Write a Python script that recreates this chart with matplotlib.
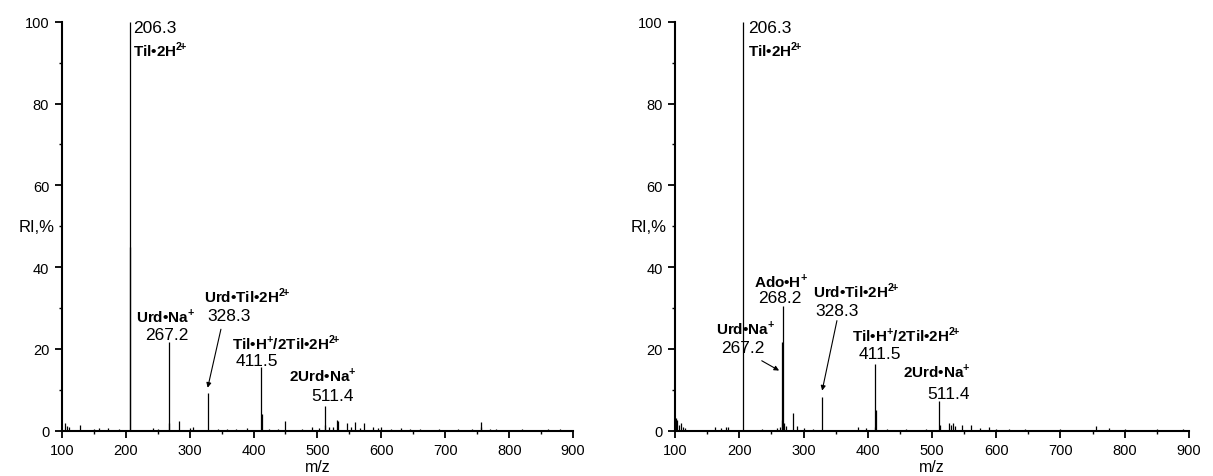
import matplotlib
matplotlib.use("Agg")
import matplotlib.pyplot as plt
from matplotlib.ticker import MultipleLocator

plt.rcParams['font.family'] = ['Liberation Sans', 'DejaVu Sans']
plt.rcParams['mathtext.fontset'] = 'custom'
plt.rcParams['mathtext.rm'] = 'Liberation Sans'
plt.rcParams['mathtext.bf'] = 'Liberation Sans:bold'

# left spectrum: main peaks + small peaks (m/z, RI %)
left_mz = [206.3, 206.8, 267.2, 268.2, 284.0, 328.3, 411.5, 412.5, 450.0,
           511.4, 512.4, 530.5, 532.5, 546.5, 559.5, 572.5, 587.0, 755.5, 756.5,
           105, 108, 112, 128, 150, 158, 173, 190, 243, 251, 300, 305, 344, 358,
           373, 390, 425, 439, 476, 491, 503, 518, 525, 553, 566, 595, 600, 615,
           630, 645, 660, 690, 720, 741, 770, 780, 820, 860, 880]
left_ri = [100, 45, 21.7, 2.0, 2.4, 9.2, 15.5, 4.0, 2.4,
           6.1, 1.5, 2.5, 2.3, 2.0, 2.2, 1.9, 1.0, 2.2, 1.0,
           1.8, 1.2, 0.8, 1.5, 0.5, 0.7, 0.6, 0.4, 0.6, 0.5, 0.6, 0.8, 0.5, 0.5,
           0.4, 0.6, 0.5, 0.5, 0.5, 0.8, 0.7, 0.8, 0.9, 0.8, 0.7, 0.6, 0.8, 0.5,
           0.7, 0.5, 0.4, 0.4, 0.3, 0.4, 0.5, 0.3, 0.3, 0.3, 0.3]

# right spectrum
right_mz = [206.3, 266.7, 267.2, 268.2, 269.2, 284.0, 290.0, 328.3, 410.5,
            411.5, 412.5, 511.4, 512.4, 101, 103, 106, 109, 112, 115, 162, 172,
            180, 183, 236, 258, 263, 272, 300, 315, 385, 398, 430, 460, 490,
            527, 530, 533, 536, 547, 560, 575, 588, 600, 620, 645, 700, 755,
            775, 800, 850, 890]
right_ri = [100, 2.5, 21.6, 30.6, 2.0, 4.3, 1.2, 8.2, 1.0,
            16.3, 5.0, 7.2, 1.5, 3.2, 2.5, 1.5, 1.8, 1.0, 0.6, 0.8, 0.7,
            0.8, 0.9, 0.5, 0.6, 1.0, 1.2, 0.7, 0.5, 1.0, 0.6, 0.5, 0.5, 0.5,
            1.8, 1.5, 1.8, 1.2, 1.3, 1.4, 0.6, 0.8, 0.5, 0.4, 0.4, 0.3, 1.2,
            0.6, 0.3, 0.3, 0.3]

SUP2 = r'$^{\mathbf{2}\!\mathbf{+}}$'
SUP1 = r'$^{\mathbf{+}}$'

# peak labels: (bold name, value, name x, name y, value x, value y, kind)
left_labels = [
    ('Til•2H' + SUP2, '206.3', 212, 93.3, 212, 98.5, 'left'),
    ('Urd•Na' + SUP1, '267.2', 262, 28.2, 264, 23.6, 'center'),
    ('Urd•Til•2H' + SUP2, '328.3', 323, 33.0, 362, 28.2, 'mixed'),
    ('Til•H' + SUP1 + '/2Til•2H' + SUP2, '411.5', 367, 21.7, 405, 17.1, 'mixed'),
    ('2Urd•Na' + SUP1, '511.4', 509, 13.9, 523, 8.6, 'center'),
]
right_labels = [
    ('Til•2H' + SUP2, '206.3', 213, 93.3, 213, 98.5, 'left'),
    ('Ado•H' + SUP1, '268.2', 265, 36.7, 263, 32.6, 'center'),
    ('Urd•Na' + SUP1, '267.2', 210, 25.3, 206, 20.4, 'center'),
    ('Urd•Til•2H' + SUP2, '328.3', 315, 34.2, 352, 29.3, 'mixed'),
    ('Til•H' + SUP1 + '/2Til•2H' + SUP2, '411.5', 375, 23.6, 419, 18.8, 'mixed'),
    ('2Urd•Na' + SUP1, '511.4', 507, 14.7, 525, 9.0, 'center'),
]
# arrows: (tail x, tail y, head x, head y)
left_arrows = [(349, 24.8, 328.3, 10.5)]
right_arrows = [(352, 26.9, 329, 9.8), (235, 17.1, 262, 14.7)]

fig = plt.figure(figsize=(12.13, 4.77), dpi=100)
ax1 = fig.add_axes([0.0509, 0.0950, 0.4216, 0.8574])
ax2 = fig.add_axes([0.5565, 0.0950, 0.4237, 0.8574])


def draw(ax, mz, ri, labels, arrows, ylab_x):
    ax.vlines(mz, 0, ri, color='black', linewidth=0.9)
    ax.set_xlim(100, 900)
    ax.set_ylim(0, 100)
    for s in ['top', 'right']:
        ax.spines[s].set_visible(False)
    for s in ['left', 'bottom']:
        ax.spines[s].set_linewidth(1.5)
    ax.xaxis.set_major_locator(MultipleLocator(100))
    ax.xaxis.set_minor_locator(MultipleLocator(50))
    ax.yaxis.set_major_locator(MultipleLocator(20))
    ax.yaxis.set_minor_locator(MultipleLocator(10))
    ax.tick_params(which='major', length=5, width=1.3, labelsize=10.5, pad=4)
    ax.tick_params(which='minor', length=2.5, width=1.0)
    ax.set_xlabel('m/z', fontsize=11.5, labelpad=1)
    ax.set_ylabel('RI,%', fontsize=12, rotation=0, ha='right', va='center')
    ax.yaxis.set_label_coords(ylab_x, 0.5)
    for name, val, nx, ny, vx, vy, kind in labels:
        nha = 'left' if kind in ('left', 'mixed') else 'center'
        vha = 'left' if kind == 'left' else 'center'
        ax.text(nx, ny, name, fontsize=11, fontweight='bold', ha=nha, va='center')
        ax.text(vx, vy, val, fontsize=12.5, ha=vha, va='center')
    for tx, ty, hx, hy in arrows:
        ax.annotate('', xy=(hx, hy), xytext=(tx, ty),
                    arrowprops=dict(arrowstyle='-|>', color='black', lw=0.8,
                                    mutation_scale=7, shrinkA=0, shrinkB=0))


draw(ax1, left_mz, left_ri, left_labels, left_arrows, -0.013)
draw(ax2, right_mz, right_ri, right_labels, right_arrows, -0.016)

fig.savefig('out.png', dpi=100)
